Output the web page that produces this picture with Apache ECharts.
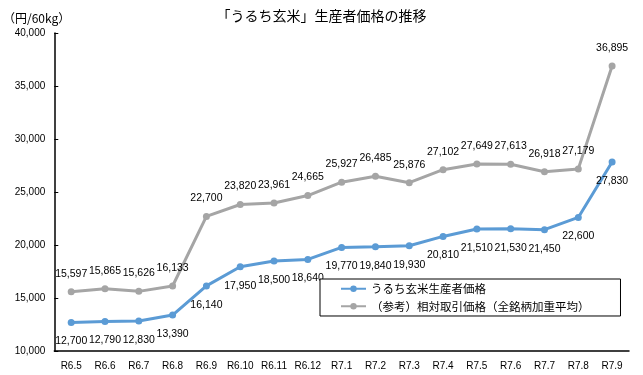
<!DOCTYPE html>
<html><head><meta charset="utf-8">
<script src="https://cdn.jsdelivr.net/npm/echarts@6/dist/echarts.min.js"></script>
<style>html,body{margin:0;padding:0;background:#fff}#c{width:643px;height:375px}</style>
</head><body><div id="c"></div>
<script>
const categories = ['R6.5','R6.6','R6.7','R6.8','R6.9','R6.10','R6.11','R6.12','R7.1','R7.2','R7.3','R7.4','R7.5','R7.6','R7.7','R7.8','R7.9'];
const producerPrice = [12700,12790,12830,13390,16140,17950,18500,18640,19770,19840,19930,20810,21510,21530,21450,22600,27830];
const tradePrice = [15597,15865,15626,16133,22700,23820,23961,24665,25927,26485,25876,27102,27649,27613,26918,27179,36895];
const seriesNames = ['うるち玄米生産者価格','（参考）相対取引価格（全銘柄加重平均）'];
const chart = echarts.init(document.getElementById('c'));
const numFont = 'Liberation Sans';
const fmt = v => v.toLocaleString('en-US');
chart.setOption({
  animation:false,
  title:{text:'「うるち玄米」生産者価格の推移',left:'center',top:4,textStyle:{fontFamily:'Noto Sans CJK JP',fontSize:14,fontWeight:'normal',color:'#000'}},
  grid:{left:52,right:14,top:33,bottom:24},
  legend:{orient:'vertical',left:320,top:279,itemWidth:25,itemHeight:8,itemGap:6,padding:[4,31,4,20],
    borderColor:'#000',borderWidth:1,backgroundColor:'#fff',
    textStyle:{fontFamily:'Noto Sans CJK JP',fontSize:11.5,color:'#000'},data:seriesNames},
  xAxis:{type:'category',data:categories,boundaryGap:true,
    axisLine:{lineStyle:{color:'#000',width:1.5}},axisTick:{inside:true,length:4,lineStyle:{color:'#000'}},
    axisLabel:{fontFamily:numFont,fontSize:10,color:'#000',interval:0,margin:10}},
  yAxis:{type:'value',min:10000,max:40000,interval:5000,
    name:'（円/60kg）',nameLocation:'end',nameGap:9,nameTextStyle:{fontFamily:'Noto Sans CJK JP',fontSize:12,color:'#000',align:'right',padding:[0,-16,0,0]},
    axisLine:{show:true,lineStyle:{color:'#000',width:1.5}},axisTick:{show:true,inside:true,length:4,lineStyle:{color:'#000'}},
    splitLine:{show:false},
    axisLabel:{fontFamily:numFont,fontSize:10,color:'#000',formatter:fmt,margin:9}},
  series:[
    {name:seriesNames[0],type:'line',data:producerPrice,color:'#5B9BD5',symbol:'circle',symbolSize:7,
     lineStyle:{width:3},label:{show:true,position:'bottom',distance:10,fontFamily:numFont,fontSize:10.5,color:'#000',formatter:p=>fmt(p.value)}},
    {name:seriesNames[1],type:'line',data:tradePrice,color:'#A5A5A5',symbol:'circle',symbolSize:7,
     lineStyle:{width:3},label:{show:true,position:'top',distance:9,fontFamily:numFont,fontSize:10.5,color:'#000',formatter:p=>fmt(p.value)}}
  ]
});
</script></body></html>
